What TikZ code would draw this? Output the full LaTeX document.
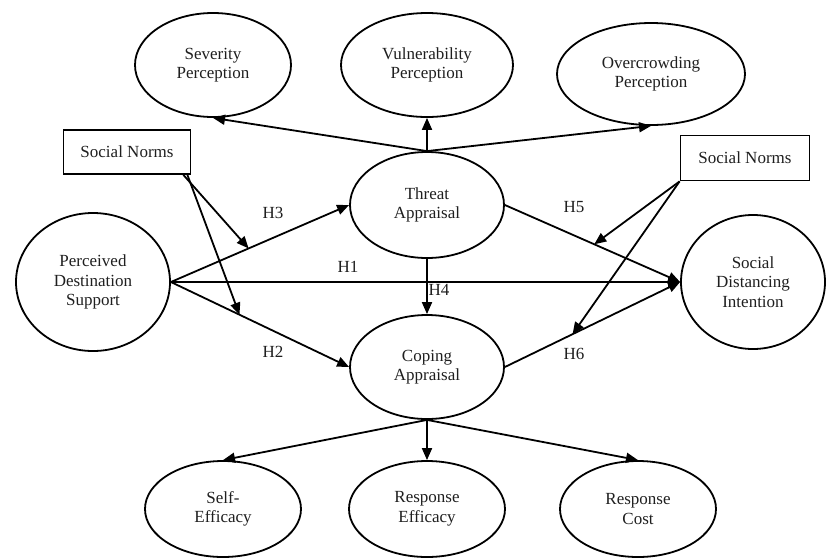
\documentclass[tikz,border=0pt]{standalone}
\usepackage{fontspec}
\setmainfont{Liberation Serif}
\usetikzlibrary{arrows.meta,shapes.geometric,calc}
\begin{document}
\begin{tikzpicture}[x=1pt,y=-1pt,
  txt/.style={font=\fontsize{17pt}{19.5pt}\selectfont, text=black!88},
  lat/.style={txt, draw, ellipse, line width=1.8pt, inner sep=0pt, align=center},
  snbox/.style={txt, draw, rectangle, line width=1.8pt, inner sep=0pt, minimum width=127pt, minimum height=44pt},
  arr/.style={line width=1.8pt, -{Triangle[length=12pt,width=10pt]}},
  lbl/.style={txt}]
\useasboundingbox (0,0) rectangle (827,558);
% latent constructs
\node[lat, minimum width=156pt, minimum height=104pt] (sev) at (213,65) {Severity\\Perception};
\node[lat, minimum width=172pt, minimum height=104pt] (vul) at (427,65) {Vulnerability\\Perception};
\node[lat, minimum width=188pt, minimum height=102pt] (ovc) at (651,74) {Overcrowding\\Perception};
\node[lat, minimum width=154pt, minimum height=106pt] (thr) at (427,205) {Threat\\Appraisal};
\node[lat, minimum width=154pt, minimum height=104pt] (cop) at (427,367) {Coping\\Appraisal};
\node[lat, minimum width=154pt, minimum height=138pt] (pds) at (93,282) {Perceived\\Destination\\Support};
\node[lat, minimum width=144pt, minimum height=134pt] (sdi) at (753,282) {Social\\Distancing\\Intention};
\node[lat, minimum width=156pt, minimum height=96pt] (sef) at (223,509) {Self-\\Efficacy};
\node[lat, minimum width=156pt, minimum height=96pt] (ref) at (427,509) {Response\\Efficacy};
\node[lat, minimum width=156pt, minimum height=96pt] (rco) at (638,509) {Response\\Cost};
% moderators
\node[snbox] (snl) at (127,152) {Social Norms};
\node[snbox, minimum width=129pt, minimum height=45pt] (snr) at (745,158) {Social Norms};
% threat dimensions
\draw[arr] (thr.north) -- (sev.south);
\draw[arr] (thr.north) -- (vul.south);
\draw[arr] (thr.north) -- (ovc.south);
% coping dimensions
\draw[arr] (cop.south) -- (sef.north);
\draw[arr] (cop.south) -- (ref.north);
\draw[arr] (cop.south) -- (rco.north);
% hypotheses
\draw[arr] (pds.east) -- (thr.west);
\draw[arr] (pds.east) -- (cop.west);
\draw[arr] (pds.east) -- (sdi.west);
\draw[arr] (thr.south) -- (cop.north);
\draw[arr] (thr.east) -- (sdi.west);
\draw[arr] (cop.east) -- (sdi.west);
% moderation targets
\coordinate (m3) at ($(pds.east)!0.436!(thr.west)$);
\coordinate (m2) at ($(pds.east)!0.385!(cop.west)$);
\coordinate (m5) at ($(thr.east)!0.51!(sdi.west)$);
\coordinate (m6) at ($(cop.east)!0.386!(sdi.west)$);
\draw[arr] ([xshift=-8pt]snl.south east) -- (m3);
\draw[arr] ([xshift=-4pt]snl.south east) -- (m2);
\draw[arr] (snr.south west) -- (m5);
\draw[arr] (snr.south west) -- (m6);
% labels
\node[lbl] (h1) at (348,267) {H1};
\node[lbl] (h2) at (273,352) {H2};
\node[lbl] (h3) at (273,213) {H3};
\node[lbl] (h4) at (439,290) {H4};
\node[lbl] (h5) at (574,207) {H5};
\node[lbl] (h6) at (574,354) {H6};
\end{tikzpicture}
\end{document}
